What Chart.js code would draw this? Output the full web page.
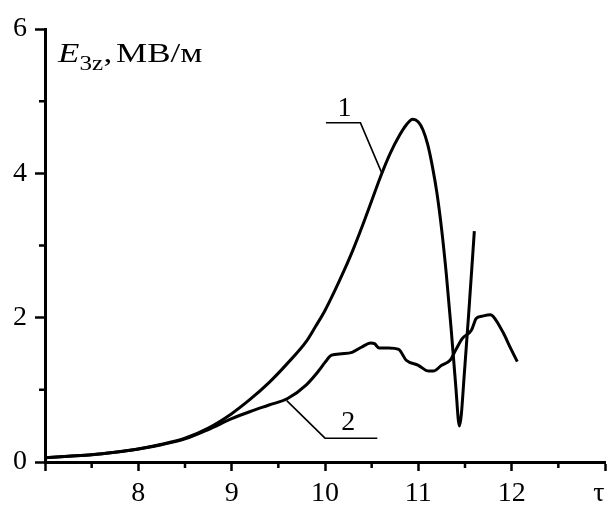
<!DOCTYPE html>
<html>
<head>
<meta charset="utf-8">
<script src="https://cdn.jsdelivr.net/npm/chart.js@4.4.1/dist/chart.umd.min.js"></script>
<style>
  html, body { margin: 0; padding: 0; background: #fff; }
  #wrap { width: 611px; height: 506px; }
</style>
</head>
<body>
<div id="wrap"><canvas id="c" width="611" height="506"></canvas></div>
<script>
// Curve 1: field amplitude vs dimensionless time
const tau1 = [7.0, 7.25, 7.5, 7.75, 8.0, 8.25, 8.5, 8.75, 9.0, 9.2, 9.4, 9.6, 9.8, 9.9, 10.0, 10.1, 10.2, 10.3, 10.4, 10.5, 10.6, 10.7, 10.8, 10.87, 10.94, 11.0, 11.05, 11.1, 11.15, 11.2, 11.25, 11.3, 11.35, 11.4, 11.44, 11.5, 11.55, 11.6];
const e1   = [0.06, 0.08, 0.10, 0.135, 0.18, 0.245, 0.33, 0.47, 0.67, 0.87, 1.1, 1.37, 1.67, 1.88, 2.1, 2.36, 2.64, 2.94, 3.27, 3.62, 3.97, 4.28, 4.53, 4.67, 4.75, 4.71, 4.6, 4.4, 4.1, 3.72, 3.22, 2.6, 1.87, 1.07, 0.5, 1.35, 2.25, 3.2];

// Curve 2
const tau2 = [7.0, 7.25, 7.5, 7.75, 8.0, 8.25, 8.5, 8.75, 9.0, 9.2, 9.4, 9.6, 9.8, 9.93, 10.0, 10.07, 10.18, 10.29, 10.39, 10.49, 10.53, 10.58, 10.68, 10.79, 10.87, 11.0, 11.11, 11.16, 11.25, 11.34, 11.4, 11.47, 11.57, 11.62, 11.68, 11.77, 11.8, 11.91, 11.98, 12.06];
const e2   = [0.06, 0.08, 0.10, 0.135, 0.18, 0.24, 0.32, 0.45, 0.6, 0.7, 0.79, 0.88, 1.07, 1.26, 1.38, 1.48, 1.50, 1.52, 1.59, 1.65, 1.64, 1.58, 1.58, 1.56, 1.41, 1.34, 1.26, 1.26, 1.34, 1.41, 1.55, 1.71, 1.83, 1.99, 2.02, 2.04, 2.02, 1.79, 1.6, 1.39];

// Axis ranges and labelled ticks
const xRange = [7, 13];
const yRange = [0, 6];
const xTickLabels = [8, 9, 10, 11, 12];
const yTickLabels = [0, 2, 4, 6];
const xMinorTicks = [7.5, 8.5, 9.5, 10.5, 11.5, 12.5];
const yMinorTicks = [1, 3, 5];

// Curve labels with leader lines (data units)
const curveLabels = [
  { text: '1', at: [10.21, 4.80], path: [[10.01, 4.70], [10.38, 4.70], [10.61, 4.00]] },
  { text: '2', at: [10.25, 0.45], path: [[9.59, 0.85], [10.0, 0.33], [10.56, 0.33]] }
];

const SERIF = '"Liberation Serif", "Times New Roman", serif';

const pts = (xs, ys) => xs.map((x, i) => ({ x: x, y: ys[i] }));

const decorations = {
  id: 'decorations',
  afterDraw(chart) {
    const ctx = chart.ctx;
    const xs = chart.scales.x, ys = chart.scales.y;
    ctx.save();
    ctx.strokeStyle = '#000';
    ctx.fillStyle = '#000';

    // minor ticks
    ctx.lineWidth = 2.5;
    ctx.beginPath();
    xMinorTicks.forEach(v => {
      const px = xs.getPixelForValue(v);
      ctx.moveTo(px, xs.top);
      ctx.lineTo(px, xs.top + 6);
    });
    yMinorTicks.forEach(v => {
      const py = ys.getPixelForValue(v);
      ctx.moveTo(ys.right, py);
      ctx.lineTo(ys.right - 6, py);
    });
    ctx.stroke();

    // leader lines and curve numbers
    ctx.lineWidth = 1.6;
    ctx.font = '28px ' + SERIF;
    ctx.textAlign = 'center';
    ctx.textBaseline = 'alphabetic';
    curveLabels.forEach(l => {
      ctx.beginPath();
      l.path.forEach((p, i) => {
        const px = xs.getPixelForValue(p[0]), py = ys.getPixelForValue(p[1]);
        if (i === 0) ctx.moveTo(px, py); else ctx.lineTo(px, py);
      });
      ctx.stroke();
      ctx.fillText(l.text, xs.getPixelForValue(l.at[0]), ys.getPixelForValue(l.at[1]));
    });

    // axis name for tau
    ctx.textAlign = 'center';
    ctx.textBaseline = 'middle';
    ctx.font = '28px ' + SERIF;
    ctx.fillText('τ', xs.right - 6, xs.top + 32);

    // y-axis name: E_3z, МВ/м (set a little wide)
    const area = chart.chartArea;
    const base = area.top + 33;
    ctx.save();
    ctx.translate(area.left + 13, base);
    ctx.scale(1.25, 1);
    let x = 0;
    ctx.textAlign = 'left';
    ctx.textBaseline = 'alphabetic';
    ctx.font = 'italic 28px ' + SERIF;
    ctx.fillText('E', x, 0);
    x += ctx.measureText('E').width;
    ctx.font = '20px ' + SERIF;
    ctx.fillText('3z', x, 8);
    x += ctx.measureText('3z').width + 0.5;
    ctx.font = '28px ' + SERIF;
    ctx.fillText(',', x, 0);
    x += ctx.measureText(',').width + 3;
    ctx.fillText('МВ/м', x, 0);
    ctx.restore();
    ctx.restore();
  }
};

new Chart(document.getElementById('c'), {
  type: 'line',
  data: {
    datasets: [
      { data: pts(tau1, e1), borderColor: '#000', borderWidth: 3, pointRadius: 0, cubicInterpolationMode: 'monotone', fill: false },
      { data: pts(tau2, e2), borderColor: '#000', borderWidth: 3, pointRadius: 0, cubicInterpolationMode: 'monotone', fill: false }
    ]
  },
  options: {
    responsive: false,
    animation: false,
    layout: { padding: { top: 29, right: 4, bottom: 0, left: 0 } },
    plugins: { legend: { display: false }, tooltip: { enabled: false } },
    scales: {
      x: {
        type: 'linear',
        min: xRange[0], max: xRange[1],
        ticks: {
          stepSize: 1,
          color: '#000',
          padding: 6,
          font: { family: SERIF, size: 28 },
          callback: v => xTickLabels.includes(v) ? String(v) : ''
        },
        grid: { drawOnChartArea: false, drawTicks: true, tickLength: 9, tickWidth: 2.5, tickColor: '#000' },
        border: { display: true, color: '#000', width: 3 },
        afterFit: s => { s.height = 44; }
      },
      y: {
        type: 'linear',
        min: yRange[0], max: yRange[1],
        ticks: {
          stepSize: 2,
          color: '#000',
          padding: 8,
          font: { family: SERIF, size: 28 },
          callback: v => yTickLabels.includes(v) ? String(v) : ''
        },
        grid: { drawOnChartArea: false, drawTicks: true, tickLength: 10, tickWidth: 2.5, tickColor: '#000' },
        border: { display: true, color: '#000', width: 3 },
        afterFit: s => { s.width = 45; }
      }
    }
  },
  plugins: [decorations]
});
</script>
</body>
</html>
